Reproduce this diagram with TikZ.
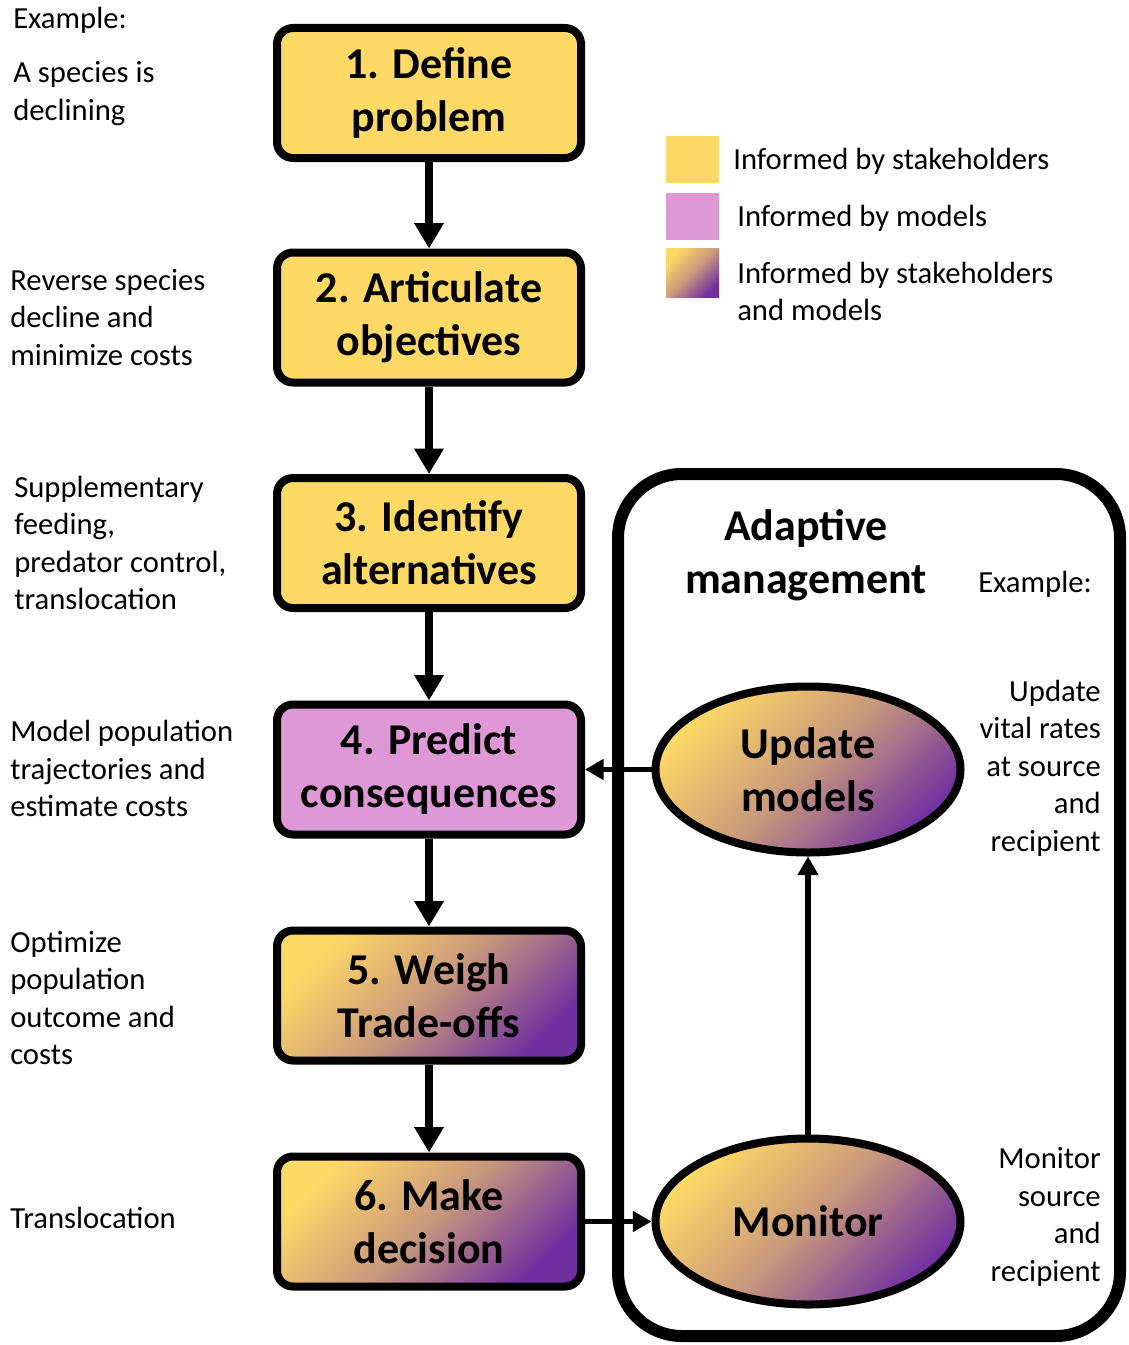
\documentclass[tikz,border=0pt]{standalone}
\usepackage{fontspec}
\setmainfont{Carlito}
\usetikzlibrary{arrows.meta,shapes.geometric,positioning}

\definecolor{stakeyellow}{HTML}{FFD966}
\definecolor{modelpink}{HTML}{DF98D6}
\definecolor{modelpurple}{HTML}{7030A0}

\tikzset{
  stepbox/.style={draw, line width=6pt, rounded corners=12pt,
    minimum width=228pt, minimum height=97.5pt, inner sep=0pt,
    align=center, font=\fontsize{33}{39.75}\selectfont\bfseries},
  amoval/.style={draw, ellipse, line width=6pt,
    minimum width=228.75pt, minimum height=124.5pt, inner sep=0pt,
    align=center, font=\fontsize{33}{39.75}\selectfont\bfseries},
  yellowfill/.style={fill=stakeyellow},
  pinkfill/.style={fill=modelpink},
  bothfill/.style={top color=stakeyellow, bottom color=modelpurple,
    middle color=stakeyellow!62!modelpurple, shading angle=45},
  sidetext/.style={inner sep=0pt, align=left, font=\fontsize{23}{28.1}\selectfont},
  bigarrow/.style={line width=6pt, -{Triangle[width=21pt,length=19pt]}},
  thinarrow/.style={line width=4pt, -{Triangle[width=15pt,length=14pt]}},
}

\begin{document}
\begin{tikzpicture}[x=0.75pt, y=-0.75pt]
  \useasboundingbox (0,0) rectangle (1128,1345);

  % adaptive management frame
  \node[draw, line width=9pt, rounded corners=48pt, minimum width=376.5pt,
    minimum height=646.5pt, inner sep=0pt] (adaptive) at (869,905) {};
  \node[align=center, font=\fontsize{33}{39.75}\selectfont\bfseries] (amtitle) at (806,555) {Adaptive\\management};
  \node[sidetext, anchor=west] (amexample) at (978,584) {Example:};

  % steps
  \node[stepbox, yellowfill] (b1) at (429,93) {1. Define\\problem};
  \node[stepbox, yellowfill] (b2) at (429,317.5) {2. Articulate\\objectives};
  \node[stepbox, yellowfill] (b3) at (429,543) {3. Identify\\alternatives};
  \node[stepbox, pinkfill] (b4) at (429,769.5) {4. Predict\\consequences};
  \node[stepbox, bothfill] (b5) at (429,995.5) {5. Weigh\\Trade-offs};
  \node[stepbox, bothfill] (b6) at (429,1221.5) {6. Make\\decision};

  \node[amoval, bothfill] (update) at (808,769.5) {Update\\models};
  \node[amoval, bothfill] (monitor) at (808,1221.5) {Monitor};

  \draw[bigarrow] (b1) -- (b2);
  \draw[bigarrow] (b2) -- (b3);
  \draw[bigarrow] (b3) -- (b4);
  \draw[bigarrow] (b4) -- (b5);
  \draw[bigarrow] (b5) -- (b6);
  \draw[thinarrow] (update) -- (b4);
  \draw[thinarrow] (b6) -- (monitor);
  \draw[thinarrow] (monitor) -- (update);

  % examples on the left
  \node[sidetext, anchor=west] (ex0) at (13,20) {Example:};
  \node[sidetext, anchor=west] (ex1) at (13,93.5) {A species is\\declining};
  \node[sidetext, anchor=west] (ex2) at (10,317.5) {Reverse species\\decline and\\minimize costs};
  \node[sidetext, anchor=west] (ex3) at (14,543) {Supplementary\\feeding,\\predator control,\\translocation};
  \node[sidetext, anchor=west] (ex4) at (10,768.5) {Model population\\trajectories and\\estimate costs};
  \node[sidetext, anchor=west] (ex5) at (10,998) {Optimize\\population\\outcome and\\costs};
  \node[sidetext, anchor=west] (ex6) at (10,1218) {Translocation};

  % examples on the right
  \node[sidetext, align=right, anchor=east] (exupdate) at (1101,768) {Update\\vital rates\\at source\\and\\recipient};
  \node[sidetext, align=right, anchor=east] (exmonitor) at (1101,1217) {Monitor\\source\\and\\recipient};

  % legend
  \fill[yellowfill] (666,136) rectangle (719,183);
  \fill[pinkfill] (666,193) rectangle (719,240);
  \shade[bothfill] (666,248) rectangle (719,297);
  \node[sidetext, anchor=west] (legstake) at (733,161) {Informed by stakeholders};
  \node[sidetext, anchor=west] (legmodel) at (737,218) {Informed by models};
  \node[sidetext, anchor=west] (legboth) at (737,291.5) {Informed by stakeholders\\and models};
\end{tikzpicture}
\end{document}
